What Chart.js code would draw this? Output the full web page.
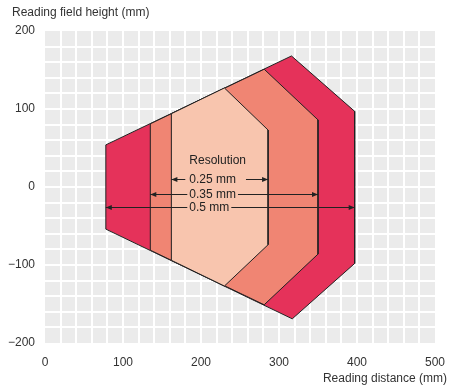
<!DOCTYPE html>
<html>
<head>
<meta charset="utf-8">
<script src="https://cdn.jsdelivr.net/npm/chart.js@4/dist/chart.umd.min.js"></script>
<style>
  html, body { margin: 0; padding: 0; background: #fff; }
  #wrap { width: 450px; height: 390px; }
</style>
</head>
<body>
<div id="wrap"><canvas id="c" width="450" height="390"></canvas></div>
<script>
// Reading field outlines per resolution (distance mm, field height mm)
const resolutions = ['0.25 mm', '0.35 mm', '0.5 mm'];
const dist025 = [162, 230, 286, 286, 230, 162];
const height025 = [94, 127, 73, -74, -127, -94];
const dist035 = [135, 281, 350, 350, 281, 135];
const height035 = [81, 151, 86, -86, -151, -81];
const dist05 = [78, 316, 397, 397, 317, 78];
const height05 = [54, 168, 97, -98, -169, -54];

// heights where the resolution arrows sit
const arrowHeights = [10, -8.5, -26];
const labelDistance = 185;
const titleHeight = 34;

const xTickLabels = [0, 100, 200, 300, 400, 500];
const yTickLabels = [-200, -100, 0, 100, 200];

const zoneColors = ['#f8c5ae', '#f08573', '#e5325a'];
const zones = [[dist025, height025], [dist035, height035], [dist05, height05]];

function toPoints(xs, ys) {
    const pts = xs.map((x, i) => ({ x: x, y: ys[i] }));
    pts.push({ x: xs[0], y: ys[0] }); // close the outline
    return pts;
}

const font = '12px "Liberation Sans", Arial, sans-serif';
const textColor = '#333';

const bgPlugin = {
    id: 'plotBg',
    beforeDraw(chart) {
        const { ctx, chartArea: a } = chart;
        ctx.save();
        ctx.fillStyle = '#ebebeb';
        ctx.fillRect(a.left, a.top, a.right - a.left, a.bottom - a.top);
        ctx.restore();
    }
};

function arrowHead(ctx, x, y, dir) {
    ctx.beginPath();
    ctx.moveTo(x, y);
    ctx.lineTo(x - dir * 6, y - 2.5);
    ctx.lineTo(x - dir * 6, y + 2.5);
    ctx.closePath();
    ctx.fill();
}

const annotPlugin = {
    id: 'annot',
    afterDatasetsDraw(chart) {
        const { ctx } = chart;
        const xs = chart.scales.x, ys = chart.scales.y;
        ctx.save();
        ctx.font = font;
        ctx.fillStyle = '#222';
        ctx.strokeStyle = '#222';
        ctx.lineWidth = 1;
        ctx.textBaseline = 'middle';
        ctx.textAlign = 'left';
        const tx = xs.getPixelForValue(labelDistance);
        ctx.fillText('Resolution', tx, ys.getPixelForValue(titleHeight));
        zones.forEach(([d], i) => {
            const y = Math.round(ys.getPixelForValue(arrowHeights[i])) + 0.5;
            const x0 = xs.getPixelForValue(d[0]);
            const x1 = xs.getPixelForValue(d[2]);
            const w = ctx.measureText(resolutions[i]).width;
            const gapL = i === 0 ? 4 : 2;
            const gapR = i === 0 ? 10 : 2;
            ctx.fillText(resolutions[i], tx, y);
            ctx.beginPath();
            ctx.moveTo(x0, y);
            ctx.lineTo(tx - gapL, y);
            ctx.moveTo(tx + w + gapR, y);
            ctx.lineTo(x1, y);
            ctx.stroke();
            arrowHead(ctx, x0, y, -1);
            arrowHead(ctx, x1, y, 1);
        });
        ctx.restore();
    },
    afterDraw(chart) {
        const { ctx } = chart;
        ctx.save();
        ctx.font = font;
        ctx.fillStyle = textColor;
        ctx.textBaseline = 'middle';
        ctx.textAlign = 'left';
        ctx.fillText('Reading field height (mm)', 12, 13);
        ctx.textAlign = 'right';
        ctx.fillText('Reading distance (mm)', 447, 379);
        ctx.restore();
    }
};

const datasets = zones.map(([d, h], i) => ({
    label: resolutions[i],
    data: toPoints(d, h),
    borderColor: '#222',
    borderWidth: 1,
    backgroundColor: zoneColors[i],
    fill: 'shape',
    pointRadius: 0,
    tension: 0
}));

function gridColor(ctx) {
    const v = ctx.tick && ctx.tick.value;
    const s = ctx.scale;
    if (v === s.min || v === s.max) return 'rgba(0,0,0,0)';
    return '#ffffff';
}

new Chart(document.getElementById('c'), {
    type: 'line',
    data: { datasets: datasets },
    plugins: [bgPlugin, annotPlugin],
    options: {
        responsive: false,
        animation: false,
        layout: { padding: { top: 31, right: 15, left: 0, bottom: 0 } },
        plugins: { legend: { display: false }, tooltip: { enabled: false } },
        scales: {
            x: {
                type: 'linear',
                min: 0, max: 500,
                border: { display: false },
                grid: { color: gridColor, lineWidth: 2, drawTicks: false },
                ticks: {
                    stepSize: 20, autoSkip: false, maxRotation: 0, padding: 12,
                    color: textColor, font: { family: '"Liberation Sans", Arial, sans-serif', size: 12 },
                    callback: v => xTickLabels.includes(v) ? String(v) : ''
                },
                afterFit(scale) {
                    scale.height = 47;
                    // don't let the last tick label push the plot in
                    scale.paddingLeft = 0;
                    scale.paddingRight = 0;
                }
            },
            y: {
                min: -200, max: 200,
                border: { display: false },
                grid: { color: gridColor, lineWidth: 2, drawTicks: false },
                ticks: {
                    stepSize: 20, autoSkip: false, padding: 10,
                    color: textColor, font: { family: '"Liberation Sans", Arial, sans-serif', size: 12 },
                    callback: v => yTickLabels.includes(v) ? String(v).replace('-', '\u2212') : ''
                },
                afterFit(scale) { scale.width = 45; }
            }
        }
    }
});
</script>
</body>
</html>
